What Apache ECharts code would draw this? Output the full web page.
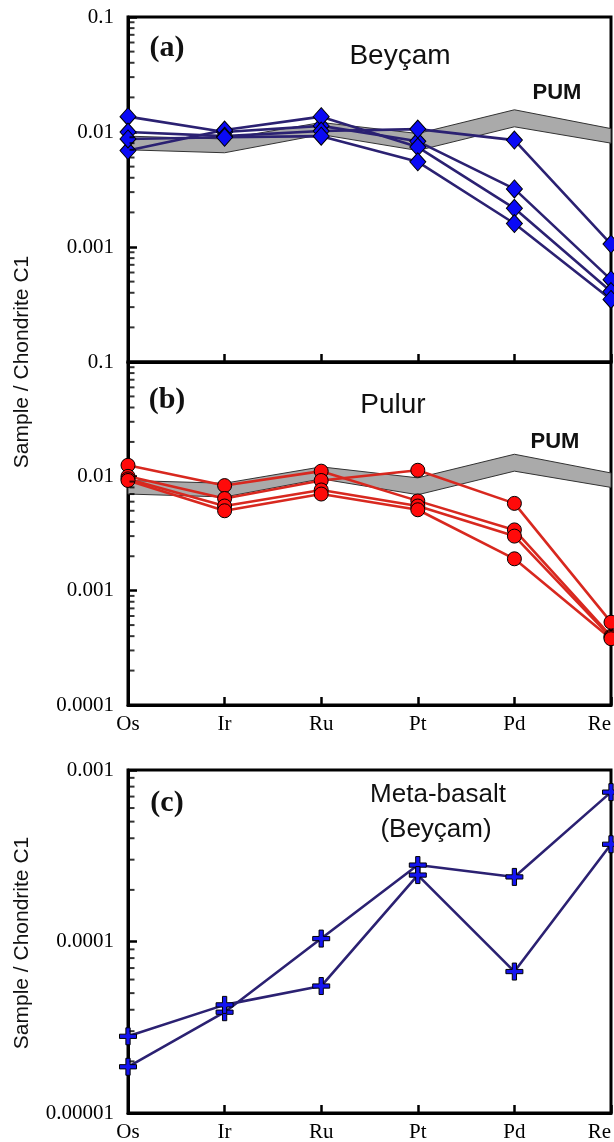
<!DOCTYPE html>
<html>
<head>
<meta charset="utf-8">
<script src="https://cdn.jsdelivr.net/npm/echarts@6/dist/echarts.min.js"></script>
<style>html,body{margin:0;padding:0;background:#fff}#c{width:614px;height:1142px}</style>
</head>
<body>
<div id="c"></div>
<script>
// ---- data ----
const categories = ['Os', 'Ir', 'Ru', 'Pt', 'Pd', 'Re'];

const pumUpper = [0.0092, 0.0087, 0.0121, 0.0097, 0.0156, 0.0107];
const pumLower = [0.0070, 0.0066, 0.0095, 0.0069, 0.0111, 0.0080];

const beycam1 = [0.0136, 0.0100, 0.0113, 0.0083, 0.0032, 0.00052];
const beycam2 = [0.0069, 0.0104, 0.0136, 0.0074, 0.00217, 0.00041];
const beycam3 = [0.0100, 0.0092, 0.0102, 0.0106, 0.0085, 0.00106];
const beycam4 = [0.0087, 0.0090, 0.0092, 0.0055, 0.0016, 0.00035];

const pulur1 = [0.0125, 0.0083, 0.0111, 0.0061, 0.0034, 0.00040];
const pulur2 = [0.0100, 0.0064, 0.0092, 0.0113, 0.0058, 0.00053];
const pulur3 = [0.0095, 0.0055, 0.0076, 0.0055, 0.0030, 0.00039];
const pulur4 = [0.0092, 0.0050, 0.0070, 0.0051, 0.0019, 0.00038];

const basalt1 = [0.0000186, 0.0000387, 0.000104, 0.000279, 0.000238, 0.000743];
const basalt2 = [0.0000280, 0.0000427, 0.0000550, 0.000244, 0.0000668, 0.000369];

const tickLabelsAB = ['0.0001', '0.001', '0.01', '0.1'];
const tickLabelsC = ['0.00001', '0.0001', '0.001'];

// ---- helpers ----
function minorTicks(minExp, maxExp) {
  const out = [];
  for (let e = minExp; e < maxExp; e++) {
    for (let k = 2; k <= 9; k++) out.push([0, k * Math.pow(10, e)]);
  }
  return out;
}
function labelFmt(labels, minExp) {
  return function (v) {
    const i = Math.round(Math.log10(v)) - minExp;
    return labels[i] !== undefined ? labels[i] : '';
  };
}

const SERIF = '"Liberation Serif", "Times New Roman", serif';
const SANS = '"Liberation Sans", Arial, sans-serif';
const NAVY = '#2b2172';
const RED = '#d8281f';

const gridBase = { left: 128, width: 483, show: true, borderColor: '#000', borderWidth: 3,
  containLabel: false, outerBoundsMode: 'none' };
const grids = [
  Object.assign({ top: 17, height: 345 }, gridBase),
  Object.assign({ top: 362, height: 343 }, gridBase),
  Object.assign({ top: 770, height: 343 }, gridBase)
];

function xAx(i, showLabel) {
  return {
    type: 'category', gridIndex: i, data: categories, boundaryGap: false,
    axisLine: { show: true, lineStyle: { color: '#000', width: 3 } },
    axisTick: { show: true, inside: true, length: 8, lineStyle: { color: '#000', width: 2.5 } },
    axisLabel: { show: showLabel, color: '#000', fontFamily: SERIF, fontSize: 21, margin: 9,
      alignMaxLabel: 'right' },
    splitLine: { show: false }
  };
}
function yAx(i, min, max, labels, minExp, showMin) {
  return {
    type: 'log', logBase: 10, gridIndex: i, min: min, max: max,
    axisLine: { show: true, lineStyle: { color: '#000', width: 3 } },
    axisTick: { show: true, inside: true, length: 9, lineStyle: { color: '#000', width: 2.5 } },
    axisLabel: { color: '#000', fontFamily: SERIF, fontSize: 21, margin: 14, showMinLabel: showMin,
      formatter: labelFmt(labels, minExp) },
    splitLine: { show: false },
    minorTick: { show: false }
  };
}

function band(xi, yi) {
  return {
    type: 'custom', xAxisIndex: xi, yAxisIndex: yi, z: 1, silent: true,
    data: [0],
    renderItem: function (params, api) {
      const pts = [];
      for (let i = 0; i < categories.length; i++) pts.push(api.coord([i, pumUpper[i]]));
      for (let i = categories.length - 1; i >= 0; i--) pts.push(api.coord([i, pumLower[i]]));
      return { type: 'polygon', shape: { points: pts },
        style: { fill: '#aaaaaa', stroke: '#333', lineWidth: 1 } };
    }
  };
}
function lineS(xi, yi, data, color, symbol, size, fill) {
  return {
    type: 'line', xAxisIndex: xi, yAxisIndex: yi, data: data, z: 3,
    symbol: symbol, symbolSize: size, showAllSymbol: true,
    lineStyle: { color: color, width: 2.6 },
    itemStyle: { color: fill, borderColor: '#000', borderWidth: 1 },
    emphasis: { disabled: true }, animation: false, clip: false
  };
}
function minorS(xi, yi, data) {
  return {
    type: 'scatter', xAxisIndex: xi, yAxisIndex: yi, data: data, z: 4, silent: true,
    symbol: 'rect', symbolSize: [5, 2], symbolOffset: [4, 0],
    itemStyle: { color: '#000' }, clip: false, animation: false
  };
}

const PLUS = 'path://M3,0 H5 V3 H8 V5 H5 V8 H3 V5 H0 V3 H3 Z';

const series = [
  band(0, 0),
  lineS(0, 0, beycam1, NAVY, 'diamond', [16, 18], '#0a0af5'),
  lineS(0, 0, beycam2, NAVY, 'diamond', [16, 18], '#0a0af5'),
  lineS(0, 0, beycam3, NAVY, 'diamond', [16, 18], '#0a0af5'),
  lineS(0, 0, beycam4, NAVY, 'diamond', [16, 18], '#0a0af5'),
  minorS(0, 0, minorTicks(-4, -1)),
  band(1, 1),
  lineS(1, 1, pulur1, RED, 'circle', 14, '#ff0a0a'),
  lineS(1, 1, pulur2, RED, 'circle', 14, '#ff0a0a'),
  lineS(1, 1, pulur3, RED, 'circle', 14, '#ff0a0a'),
  lineS(1, 1, pulur4, RED, 'circle', 14, '#ff0a0a'),
  minorS(1, 1, minorTicks(-4, -1)),
  lineS(2, 2, basalt1, NAVY, PLUS, 17, '#1414f0'),
  lineS(2, 2, basalt2, NAVY, PLUS, 17, '#1414f0'),
  minorS(2, 2, minorTicks(-5, -3))
];

const txt = (x, y, text, font, extra) => Object.assign({
  type: 'text', x: x, y: y,
  style: { text: text, font: font, fill: '#111', textAlign: 'center', textVerticalAlign: 'middle' }
}, extra || {});

const graphic = [
  txt(167, 48, '(a)', 'bold 30px ' + SERIF),
  txt(400, 56, 'Beyçam', '28px ' + SANS),
  txt(557, 93, 'PUM', 'bold 22px ' + SANS),
  txt(167, 400, '(b)', 'bold 30px ' + SERIF),
  txt(393, 405, 'Pulur', '28px ' + SANS),
  txt(555, 442, 'PUM', 'bold 22px ' + SANS),
  txt(167, 803, '(c)', 'bold 30px ' + SERIF),
  txt(438, 795, 'Meta-basalt', '26px ' + SANS),
  txt(436, 830, '(Beyçam)', '26px ' + SANS),
  txt(22, 362, 'Sample / Chondrite C1', '21px ' + SANS, { rotation: Math.PI / 2 }),
  txt(22, 943, 'Sample / Chondrite C1', '21px ' + SANS, { rotation: Math.PI / 2 })
];

const chart = echarts.init(document.getElementById('c'), null, { renderer: 'canvas' });
chart.setOption({
  animation: false,
  backgroundColor: '#fff',
  grid: grids,
  xAxis: [xAx(0, false), xAx(1, true), xAx(2, true)],
  yAxis: [
    yAx(0, 0.0001, 0.1, tickLabelsAB, -4, false),
    yAx(1, 0.0001, 0.1, tickLabelsAB, -4, true),
    yAx(2, 0.00001, 0.001, tickLabelsC, -5, true)
  ],
  series: series,
  graphic: graphic
});
</script>
</body>
</html>
